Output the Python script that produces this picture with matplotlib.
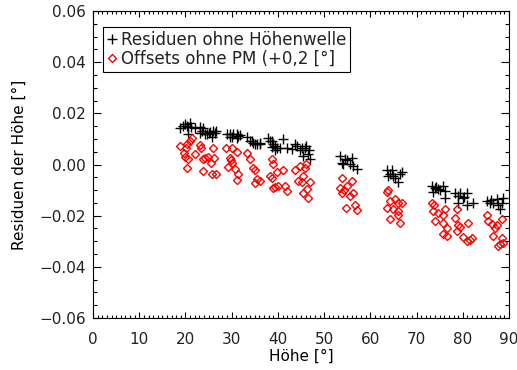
import numpy as np
import matplotlib
matplotlib.use("Agg")
import matplotlib.pyplot as plt
from matplotlib.ticker import MultipleLocator, FuncFormatter

# Residuen ohne Hoehenwelle (black +)
res_x = [18.8, 19.5, 19.9, 20.3, 20.6, 21.0, 20.6, 21.2, 22.1, 23.1, 23.1, 23.6, 23.8, 24.2, 24.7, 25.1, 25.3, 25.7, 26.0, 26.4, 26.6,
         29.0, 29.6, 29.6, 30.1, 30.3, 31.2, 31.2, 31.4, 31.8, 33.3, 34.0, 34.4, 34.6, 35.0, 35.5, 36.1, 36.1,
         37.9, 38.3, 38.7, 38.9, 38.7, 39.4, 39.8, 40.5, 41.1, 42.0, 43.1, 39.4,
         43.7, 44.1, 44.8, 45.2, 45.9, 45.4, 46.5, 46.9, 46.1, 46.7,
         53.4, 53.9, 54.1, 55.0, 56.0, 56.3, 57.1, 54.5, 55.6,
         63.6, 64.7, 63.8, 65.3, 66.4, 65.9, 66.8, 64.2, 65.0,
         73.3, 74.0, 73.5, 74.6, 75.7, 76.2, 76.2, 74.2, 75.0,
         78.3, 79.0, 79.4, 80.0, 80.9, 80.9, 82.2, 79.0, 80.3,
         85.2, 85.9, 86.5, 87.4, 87.6, 88.5, 88.7, 88.1, 86.0]
res_y = [0.0141, 0.0149, 0.0160, 0.0152, 0.0145, 0.0164, 0.0121, 0.0145, 0.0141, 0.0145, 0.0125, 0.0133, 0.0141, 0.0121, 0.0121, 0.0125, 0.0129, 0.0109, 0.0133, 0.0125, 0.0133,
         0.0121, 0.0106, 0.0121, 0.0106, 0.0121, 0.0102, 0.0121, 0.0113, 0.0117, 0.0106, 0.0094, 0.0094, 0.0086, 0.0082, 0.0082, 0.0086, 0.0082,
         0.0102, 0.0094, 0.0094, 0.0082, 0.0070, 0.0055, 0.0063, 0.0066, 0.0098, 0.0063, 0.0059, 0.0074,
         0.0082, 0.0074, 0.0055, 0.0066, 0.0063, 0.0035, 0.0043, 0.0023, 0.0074, 0.0055,
         0.0035, 0.0008, 0.0004, 0.0016, 0.0027, -0.0004, -0.0016, 0.0023, 0.0004,
         -0.0023, -0.0020, -0.0043, -0.0051, -0.0035, -0.0070, -0.0031, -0.0035, -0.0043,
         -0.0082, -0.0090, -0.0109, -0.0094, -0.0082, -0.0102, -0.0129, -0.0086, -0.0098,
         -0.0113, -0.0121, -0.0113, -0.0129, -0.0113, -0.0160, -0.0152, -0.0149, -0.0125,
         -0.0141, -0.0149, -0.0152, -0.0133, -0.0160, -0.0149, -0.0129, -0.0172, -0.0137]

# Offsets ohne PM (+0,2) (red diamonds)
off_x = [18.8, 19.7, 20.1, 20.3, 21.0, 21.4, 19.9, 20.6, 20.3, 22.1, 23.1, 23.4, 23.8, 24.2, 23.8, 24.9, 25.5, 26.0, 26.2, 25.7, 26.6,
         28.8, 30.1, 31.2, 29.6, 30.1, 29.2, 31.4, 31.2, 33.3, 34.0, 34.6, 35.0, 35.5, 36.1, 35.0, 29.9, 30.7,
         38.7, 38.9, 39.8, 38.7, 38.9, 40.0, 41.1, 41.5, 42.0, 38.3, 39.4,
         43.7, 44.8, 45.9, 45.4, 44.4, 45.2, 46.3, 46.9, 45.4, 46.5, 46.1,
         53.9, 53.4, 53.9, 55.0, 56.0, 55.6, 56.3, 54.7, 56.7, 57.1, 54.3,
         63.6, 63.8, 64.2, 63.6, 64.9, 65.3, 65.9, 66.8, 65.9, 65.9, 64.2, 66.4,
         73.3, 73.5, 74.6, 74.0, 75.7, 76.2, 75.7, 76.6, 75.7, 76.6, 73.8,
         78.8, 78.3, 79.0, 79.4, 80.0, 80.9, 82.0, 81.1, 78.8, 81.5,
         85.2, 85.4, 86.3, 87.0, 86.5, 87.4, 88.5, 88.5, 87.6, 88.1, 88.7]
off_y = [0.0074, 0.0047, 0.0066, 0.0082, 0.0094, 0.0102, 0.0031, 0.0020, -0.0012, 0.0043, 0.0078, 0.0066, 0.0023, 0.0027, -0.0027, 0.0031, 0.0008, 0.0066, 0.0027, -0.0035, -0.0035,
         0.0066, 0.0063, 0.0051, 0.0027, 0.0008, -0.0008, -0.0035, -0.0059, 0.0047, 0.0023, -0.0012, -0.0020, -0.0055, -0.0063, -0.0074, 0.0016, -0.0016,
         0.0023, 0.0004, -0.0031, -0.0051, -0.0090, -0.0082, -0.0023, -0.0082, -0.0102, -0.0043, -0.0086,
         -0.0023, -0.0004, -0.0012, -0.0043, -0.0063, -0.0070, -0.0094, -0.0070, -0.0113, -0.0129, 0.0004,
         -0.0051, -0.0090, -0.0113, -0.0082, -0.0063, -0.0121, -0.0113, -0.0168, -0.0160, -0.0176, -0.0098,
         -0.0109, -0.0098, -0.0141, -0.0168, -0.0172, -0.0133, -0.0149, -0.0149, -0.0180, -0.0199, -0.0211, -0.0227,
         -0.0149, -0.0180, -0.0188, -0.0219, -0.0199, -0.0172, -0.0227, -0.0250, -0.0270, -0.0278, -0.0160,
         -0.0172, -0.0207, -0.0238, -0.0246, -0.0285, -0.0297, -0.0289, -0.0227, -0.0258, -0.0295,
         -0.0199, -0.0219, -0.0231, -0.0250, -0.0278, -0.0238, -0.0211, -0.0289, -0.0317, -0.0309, -0.0305]

plt.rcParams['font.family'] = ['DejaVu Sans']
plt.rcParams['font.size'] = 11
plt.rcParams['text.color'] = '#222222'
plt.rcParams['xtick.labelcolor'] = '#222222'
plt.rcParams['ytick.labelcolor'] = '#222222'

fig = plt.figure(figsize=(5.17, 3.70), dpi=100)
ax = fig.add_axes([0.180, 0.1405, 0.8045, 0.8295])

ax.plot(res_x, res_y, ls='none', marker='+', color='black', markersize=6.5,
        markeredgewidth=1.0, label="Residuen ohne Höhenwelle")
ax.plot(off_x, off_y, ls='none', marker='D', color='red', markersize=4.2,
        markerfacecolor='none', markeredgewidth=1.0, label="Offsets ohne PM (+0,2 [°]")

ax.set_xlim(0, 90)
ax.set_ylim(-0.06, 0.06)
ax.xaxis.set_major_locator(MultipleLocator(10))
ax.xaxis.set_minor_locator(MultipleLocator(1))
ax.yaxis.set_major_locator(MultipleLocator(0.02))
ax.yaxis.set_minor_locator(MultipleLocator(0.005))


def fmt(v, pos):
    s = "%.2f" % v
    if s == "-0.00":
        s = "0.00"
    return s.replace('-', '\u2212')


ax.yaxis.set_major_formatter(FuncFormatter(fmt))

ax.tick_params(axis='both', which='both', direction='in', top=True, right=True, width=0.8)
ax.tick_params(axis='x', which='major', length=4, pad=10)
ax.tick_params(axis='x', which='minor', length=2)
ax.tick_params(axis='y', which='major', length=6, pad=5)
ax.tick_params(axis='y', which='minor', length=3)
for sp in ax.spines.values():
    sp.set_linewidth(0.8)

ax.set_xlabel("Höhe [°]")
ax.set_ylabel("Residuen der Höhe [°]")
ax.xaxis.set_label_coords(0.5, -0.10)
ax.yaxis.set_label_coords(-0.16, 0.5)

leg = ax.legend(loc='upper left', bbox_to_anchor=(0.024, 0.948), fancybox=False,
                edgecolor='black', framealpha=1, handlelength=0.6, handletextpad=0.2,
                borderpad=0.25, labelspacing=0.05, borderaxespad=0, fontsize=12)
leg.get_frame().set_linewidth(0.8)

fig.savefig("out.png", dpi=100)
